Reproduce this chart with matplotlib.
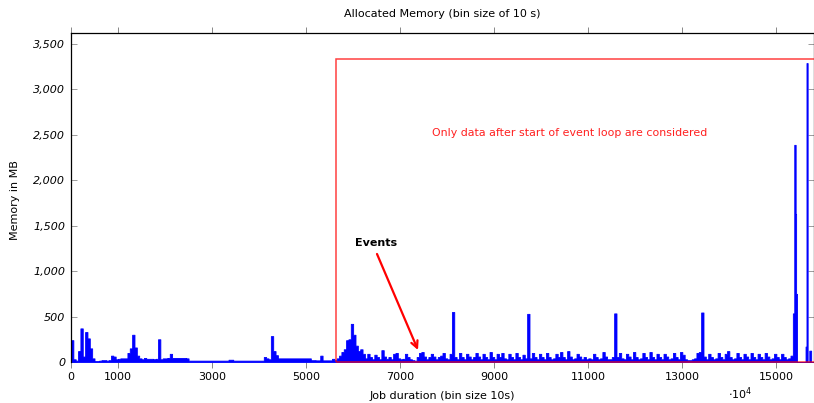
import numpy as np
import matplotlib
matplotlib.use("Agg")
import matplotlib.pyplot as plt
from matplotlib.patches import Rectangle
from matplotlib.ticker import FuncFormatter

plt.rcParams["font.family"] = ["DejaVu Sans"]
plt.rcParams["mathtext.fontset"] = "dejavusans"

# Allocated memory per time bin (MB), regular bins of 50 units from 0 to 15350
BIN = 50
mem_mb = [
    240, 30, 15, 120, 370, 60, 330, 260, 150, 40,
    10, 10, 15, 20, 20, 15, 20, 70, 60, 30,
    35, 40, 40, 40, 100, 150, 300, 160, 70, 40,
    30, 45, 35, 35, 35, 30, 35, 250, 30, 40,
    40, 45, 90, 45, 45, 45, 45, 45, 45, 40,
    15, 15, 15, 15, 15, 15, 15, 15, 15, 15,
    15, 15, 15, 15, 15, 15, 15, 25, 25, 15,
    15, 15, 15, 15, 15, 15, 15, 15, 15, 15,
    15, 15, 55, 40, 30, 285, 120, 75, 40, 40,
    40, 40, 40, 40, 40, 40, 40, 40, 40, 40,
    40, 40, 20, 20, 18, 18, 70, 18, 18, 18,
    18, 35, 20, 40, 70, 110, 140, 240, 250, 420,
    300, 180, 120, 140, 90, 40, 90, 55, 30, 80,
    55, 30, 130, 60, 35, 55, 30, 90, 100, 40,
    30, 35, 90, 55, 30, 20, 15, 55, 100, 110,
    60, 30, 55, 90, 60, 30, 55, 70, 100, 40,
    30, 90, 550, 55, 30, 100, 55, 30, 90, 60,
    30, 55, 100, 60, 30, 90, 55, 30, 110, 55,
    30, 90, 55, 100, 40, 30, 90, 55, 30, 100,
    55, 30, 80, 40, 530, 40, 100, 55, 30, 90,
    55, 30, 100, 55, 30, 40, 90, 55, 110, 55,
    30, 120, 60, 30, 40, 90, 60, 30, 55, 30,
    40, 30, 90, 55, 30, 40, 110, 60, 30, 30,
    55, 535, 55, 100, 40, 30, 90, 60, 30, 110,
    55, 30, 40, 100, 55, 30, 110, 55, 30, 90,
    55, 30, 90, 60, 30, 40, 100, 55, 30, 110,
    80, 30, 20, 20, 30, 40, 100, 110, 545, 60,
    30, 90, 55, 30, 40, 100, 55, 30, 90, 120,
    55, 30, 40, 100, 55, 30, 90, 60, 30, 100,
    55, 30, 90, 55, 30, 100, 60, 30, 40, 90,
    55, 30, 90, 55, 30, 40, 70,
]

# End of the job: irregular bins with the large allocation peaks
tail_edges = [15350, 15380, 15410, 15420, 15440, 15620, 15640, 15665, 15700, 15740, 15800]
tail_mb = [535, 2390, 1630, 750, 0, 170, 3290, 0, 125, 0]

x_ticks = [0, 1000, 3000, 5000, 7000, 9000, 11000, 13000, 15000]
y_ticks = [0, 500, 1000, 1500, 2000, 2500, 3000, 3500]

event_loop_start = 5630
considered_top = 3335
x_max = 15800
y_max = 3621

edges = np.concatenate([np.arange(len(mem_mb) + 1) * BIN, tail_edges[1:]])
values = np.array(mem_mb + tail_mb, dtype=float)
y_step = np.append(values, values[-1])

fig = plt.figure(figsize=(8.14, 4.03), dpi=100)
ax = fig.add_axes([71 / 814, 41 / 403, 743 / 814, 329 / 403])

ax.fill_between(edges, 0, y_step, step="post", facecolor="#0000ff",
                edgecolor="#0000ff", linewidth=0.6, zorder=2)

# Region considered for the analysis
ax.add_patch(Rectangle((event_loop_start, 0), x_max + 500 - event_loop_start,
                       considered_top, fill=False, edgecolor="#ff0000",
                       alpha=0.75, linewidth=1.1, zorder=3, clip_on=False))
ax.text(10611, 2520, "Only data after start of event loop are considered",
        color="#ff2020", fontsize=7.9, ha="center", va="center")

ax.annotate("", xy=(7379, 132), xytext=(6507, 1189),
            arrowprops=dict(arrowstyle="->", color="#ff0000", lw=1.6,
                            mutation_scale=12, shrinkA=0, shrinkB=0), zorder=4)
ax.text(6490, 1310, "Events", fontsize=8, fontweight="bold",
        ha="center", va="center")

ax.set_xlim(0, x_max)
ax.set_ylim(0, y_max)
ax.set_xticks(x_ticks)
ax.set_xticklabels([str(t) for t in x_ticks])
ax.set_yticks(y_ticks)
ax.yaxis.set_major_formatter(FuncFormatter(lambda v, p: f"{v:,.0f}"))

ax.tick_params(axis="x", direction="out", length=4.5, width=0.6, color="0.45",
               top=True, bottom=True, labelsize=8, pad=2.5)
ax.tick_params(axis="y", direction="in", length=4.5, width=0.6, color="0.55",
               left=True, right=True, labelsize=8, pad=4)
for lbl in ax.get_yticklabels():
    lbl.set_fontstyle("italic")

ax.spines["bottom"].set_visible(False)
for s in ("left", "top", "right"):
    ax.spines[s].set_linewidth(0.9)

fig.text(442 / 814, 1 - 14 / 403, "Allocated Memory (bin size of 10 s)",
         fontsize=8, ha="center", va="center")
fig.text(442 / 814, 1 - 396 / 403, "Job duration (bin size 10s)",
         fontsize=8, ha="center", va="center")
fig.text(15 / 814, 1 - 200 / 403, "Memory in MB", fontsize=8,
         rotation=90, ha="center", va="center")
fig.text(740 / 814, 1 - 394 / 403, r"$\cdot\mathit{10}^{\mathit{4}}$",
         fontsize=8, ha="center", va="center")

fig.savefig("out.png", dpi=100)
